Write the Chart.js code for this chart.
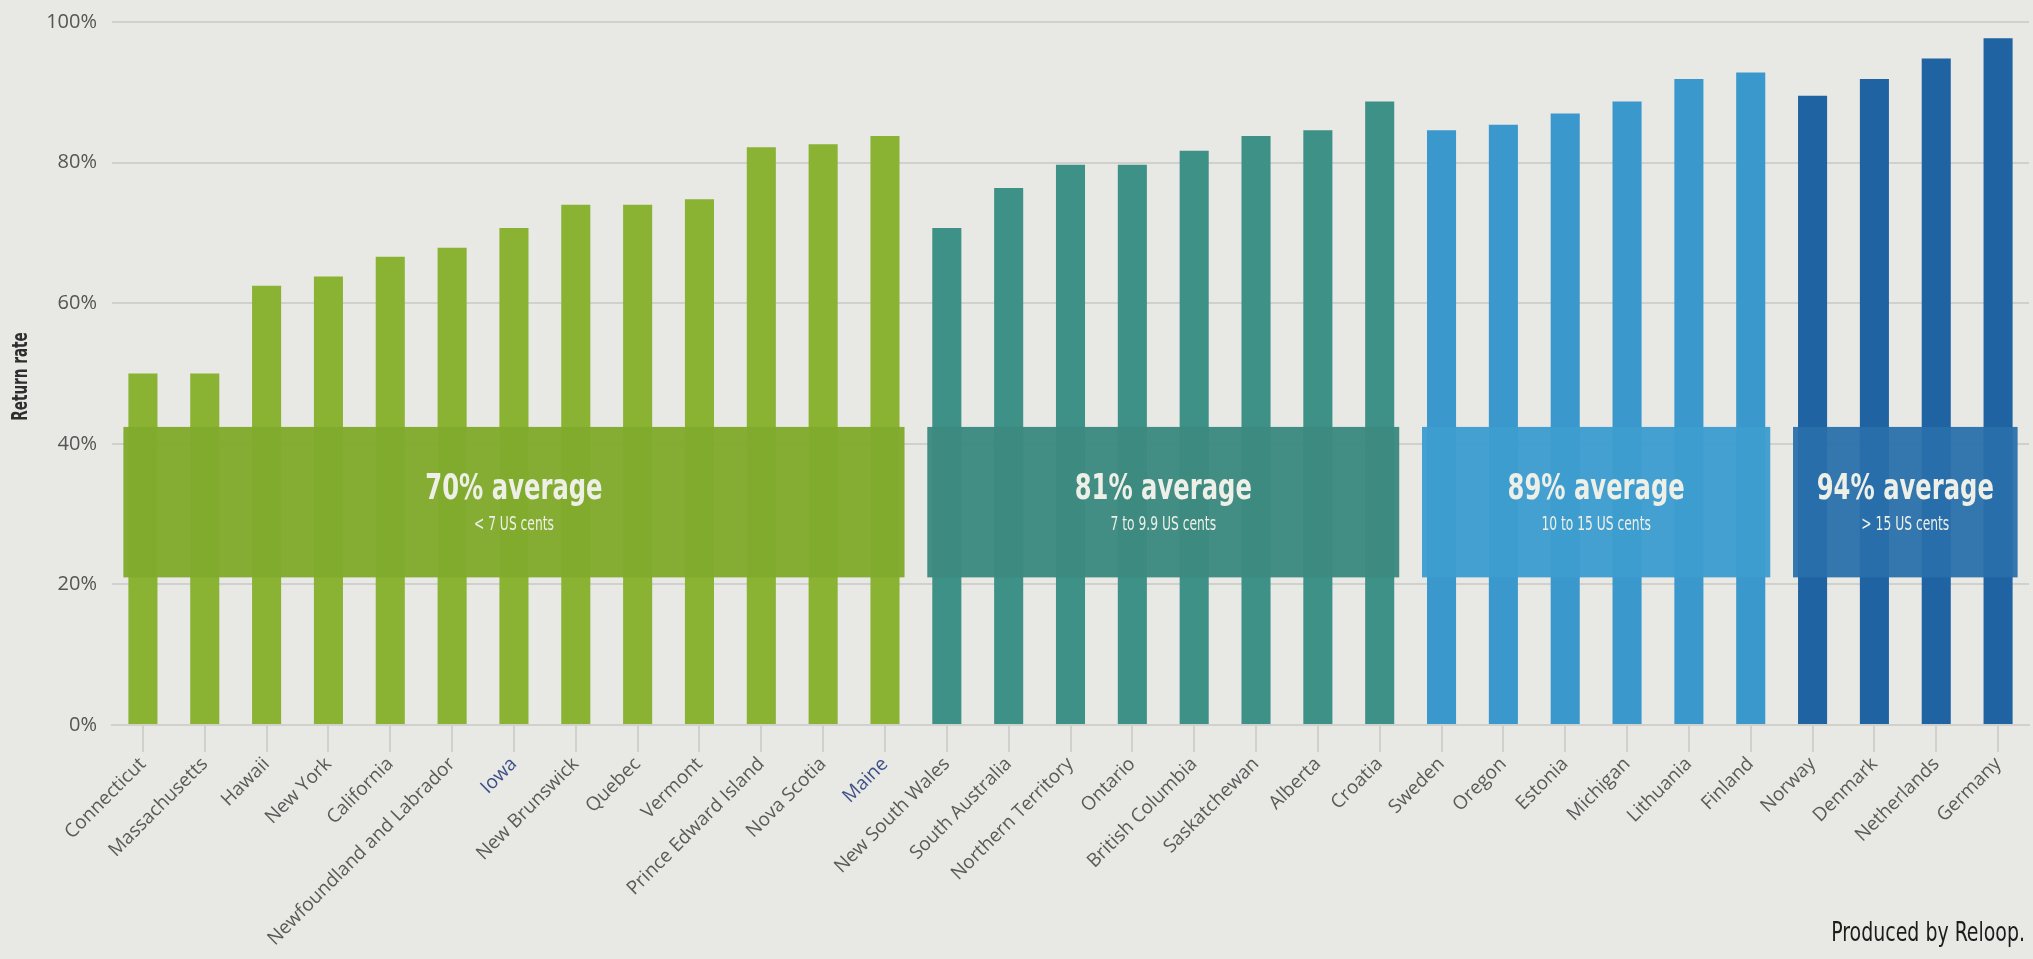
<!DOCTYPE html>
<html>
<head>
<meta charset="utf-8">
<script src="https://cdn.jsdelivr.net/npm/chart.js@4.4.1/dist/chart.umd.min.js"></script>
<style>
  html, body { margin: 0; padding: 0; background: #e8e8e4; }
  #wrap { position: relative; width: 2033px; height: 959px; }
</style>
</head>
<body>
<div id="wrap"><canvas id="returnRateChart"></canvas></div>
<script>
// Return rate per deposit system, ordered by deposit band
const places = [
  "Connecticut", "Massachusetts", "Hawaii", "New York", "California",
  "Newfoundland and Labrador", "Iowa", "New Brunswick", "Quebec", "Vermont",
  "Prince Edward Island", "Nova Scotia", "Maine",
  "New South Wales", "South Australia", "Northern Territory", "Ontario",
  "British Columbia", "Saskatchewan", "Alberta", "Croatia",
  "Sweden", "Oregon", "Estonia", "Michigan", "Lithuania", "Finland",
  "Norway", "Denmark", "Netherlands", "Germany"
];
const returnRates = [
  50, 50, 62.5, 63.8, 66.6, 67.9, 70.7, 74, 74, 74.8, 82.2, 82.6, 83.8,
  70.7, 76.4, 79.7, 79.7, 81.7, 83.8, 84.6, 88.7,
  84.6, 85.4, 87, 88.7, 91.9, 92.8,
  89.5, 91.9, 94.8, 97.7
];
const yTicks = [0, 20, 40, 60, 80, 100];

// deposit bands: how many places fall in each, and what the band reads
const bandSizes = [13, 8, 6, 4];
const bandTitles = ["70% average", "81% average", "89% average", "94% average"];
const bandNotes = ["< 7 US cents", "7 to 9.9 US cents", "10 to 15 US cents", "> 15 US cents"];

const bandBarColors = ["#8ab233", "#3d9187", "#3a98cc", "#1f63a2"];
const bandBoxColors = ["rgba(129,171,45,0.96)", "rgba(60,137,128,0.97)", "rgba(61,157,207,0.96)", "rgba(40,110,170,0.94)"];
const markedPlaces = ["Iowa", "Maine"];

const condensed = "'DejaVu Sans Condensed', 'DejaVu Sans', sans-serif";

// expand band colour to each bar
const barColors = [];
bandSizes.forEach((n, b) => { for (let i = 0; i < n; i++) barColors.push(bandBarColors[b]); });

// text squeezed horizontally, for the narrow headline face
function narrowText(ctx, text, x, y, font, squeeze, align) {
  ctx.save();
  ctx.font = font;
  ctx.textAlign = align || "center";
  ctx.translate(x, y);
  ctx.scale(squeeze, 1);
  ctx.fillText(text, 0, 0);
  ctx.restore();
}

const bandBoxes = {
  id: 'bandBoxes',
  afterDatasetsDraw(chart) {
    const { ctx, scales: { y } } = chart;
    const bars = chart.getDatasetMeta(0).data;
    const top = y.getPixelForValue(42.4);
    const bottom = y.getPixelForValue(21);
    let start = 0;
    ctx.save();
    bandSizes.forEach((n, b) => {
      const first = bars[start], last = bars[start + n - 1];
      const left = first.x - first.width / 2 - 5;
      const right = last.x + last.width / 2 + 5;
      ctx.fillStyle = bandBoxColors[b];
      ctx.fillRect(left, top, right - left, bottom - top);

      const cx = (left + right) / 2;
      const cy = (top + bottom) / 2;
      ctx.fillStyle = "#eef0e8";
      ctx.textBaseline = "middle";
      narrowText(ctx, bandTitles[b], cx, cy - 12, "bold 35px " + condensed, 0.77);
      narrowText(ctx, bandNotes[b], cx, cy + 23, "19px " + condensed, 0.72);
      start += n;
    });
    ctx.restore();
  }
};

const sideTexts = {
  id: 'sideTexts',
  afterDraw(chart) {
    const { ctx, chartArea } = chart;
    ctx.save();
    ctx.fillStyle = "#2e2e2e";
    ctx.textBaseline = "middle";
    ctx.translate(22, (chartArea.top + chartArea.bottom) / 2 + 3);
    ctx.rotate(-Math.PI / 2);
    narrowText(ctx, "Return rate", 0, 0, "bold 21px " + condensed, 0.72);
    ctx.restore();

    ctx.save();
    ctx.fillStyle = "#1c1c1c";
    ctx.textBaseline = "alphabetic";
    narrowText(ctx, "Produced by Reloop.", 2025, 941, "27px " + condensed, 0.78, "right");
    ctx.restore();
  }
};

const ctx = document.getElementById('returnRateChart').getContext('2d');

new Chart(ctx, {
  type: 'bar',
  data: {
    labels: places,
    datasets: [{
      label: "Return rate",
      data: returnRates,
      backgroundColor: barColors,
      borderWidth: 0,
      categoryPercentage: 1,
      barPercentage: 0.47
    }]
  },
  options: {
    responsive: true,
    maintainAspectRatio: false,
    animation: false,
    layout: { padding: { top: 22, right: 4, left: 0, bottom: 0 } },
    plugins: {
      legend: { display: false },
      tooltip: { enabled: false }
    },
    scales: {
      x: {
        grid: {
          offset: false,
          drawOnChartArea: false,
          drawTicks: true,
          tickLength: 27,
          color: "#d0d0cc",
          lineWidth: 2
        },
        border: { color: "#d0d0cc", width: 2 },
        ticks: {
          autoSkip: false,
          maxRotation: 45,
          minRotation: 45,
          padding: 1,
          color: (c) => markedPlaces.includes(places[c.index]) ? "#3e4f88" : "#5a5a5a",
          font: { family: "'Open Sans', sans-serif", size: 19 }
        },
        afterFit: (scale) => { scale.height = 234; }
      },
      y: {
        min: 0,
        max: 100,
        afterBuildTicks: (scale) => { scale.ticks = yTicks.map(v => ({ value: v })); },
        grid: { color: "#d0d0cc", lineWidth: 2, drawTicks: false },
        border: { display: false },
        ticks: {
          padding: 15,
          color: "#555555",
          font: { family: "'Open Sans', sans-serif", size: 20 },
          callback: (v) => v + "%"
        },
        afterFit: (scale) => {
          scale.width = 112;
          scale.paddingTop = 0;
          scale.paddingBottom = 0;
        }
      }
    }
  },
  plugins: [bandBoxes, sideTexts]
});
</script>
</body>
</html>
